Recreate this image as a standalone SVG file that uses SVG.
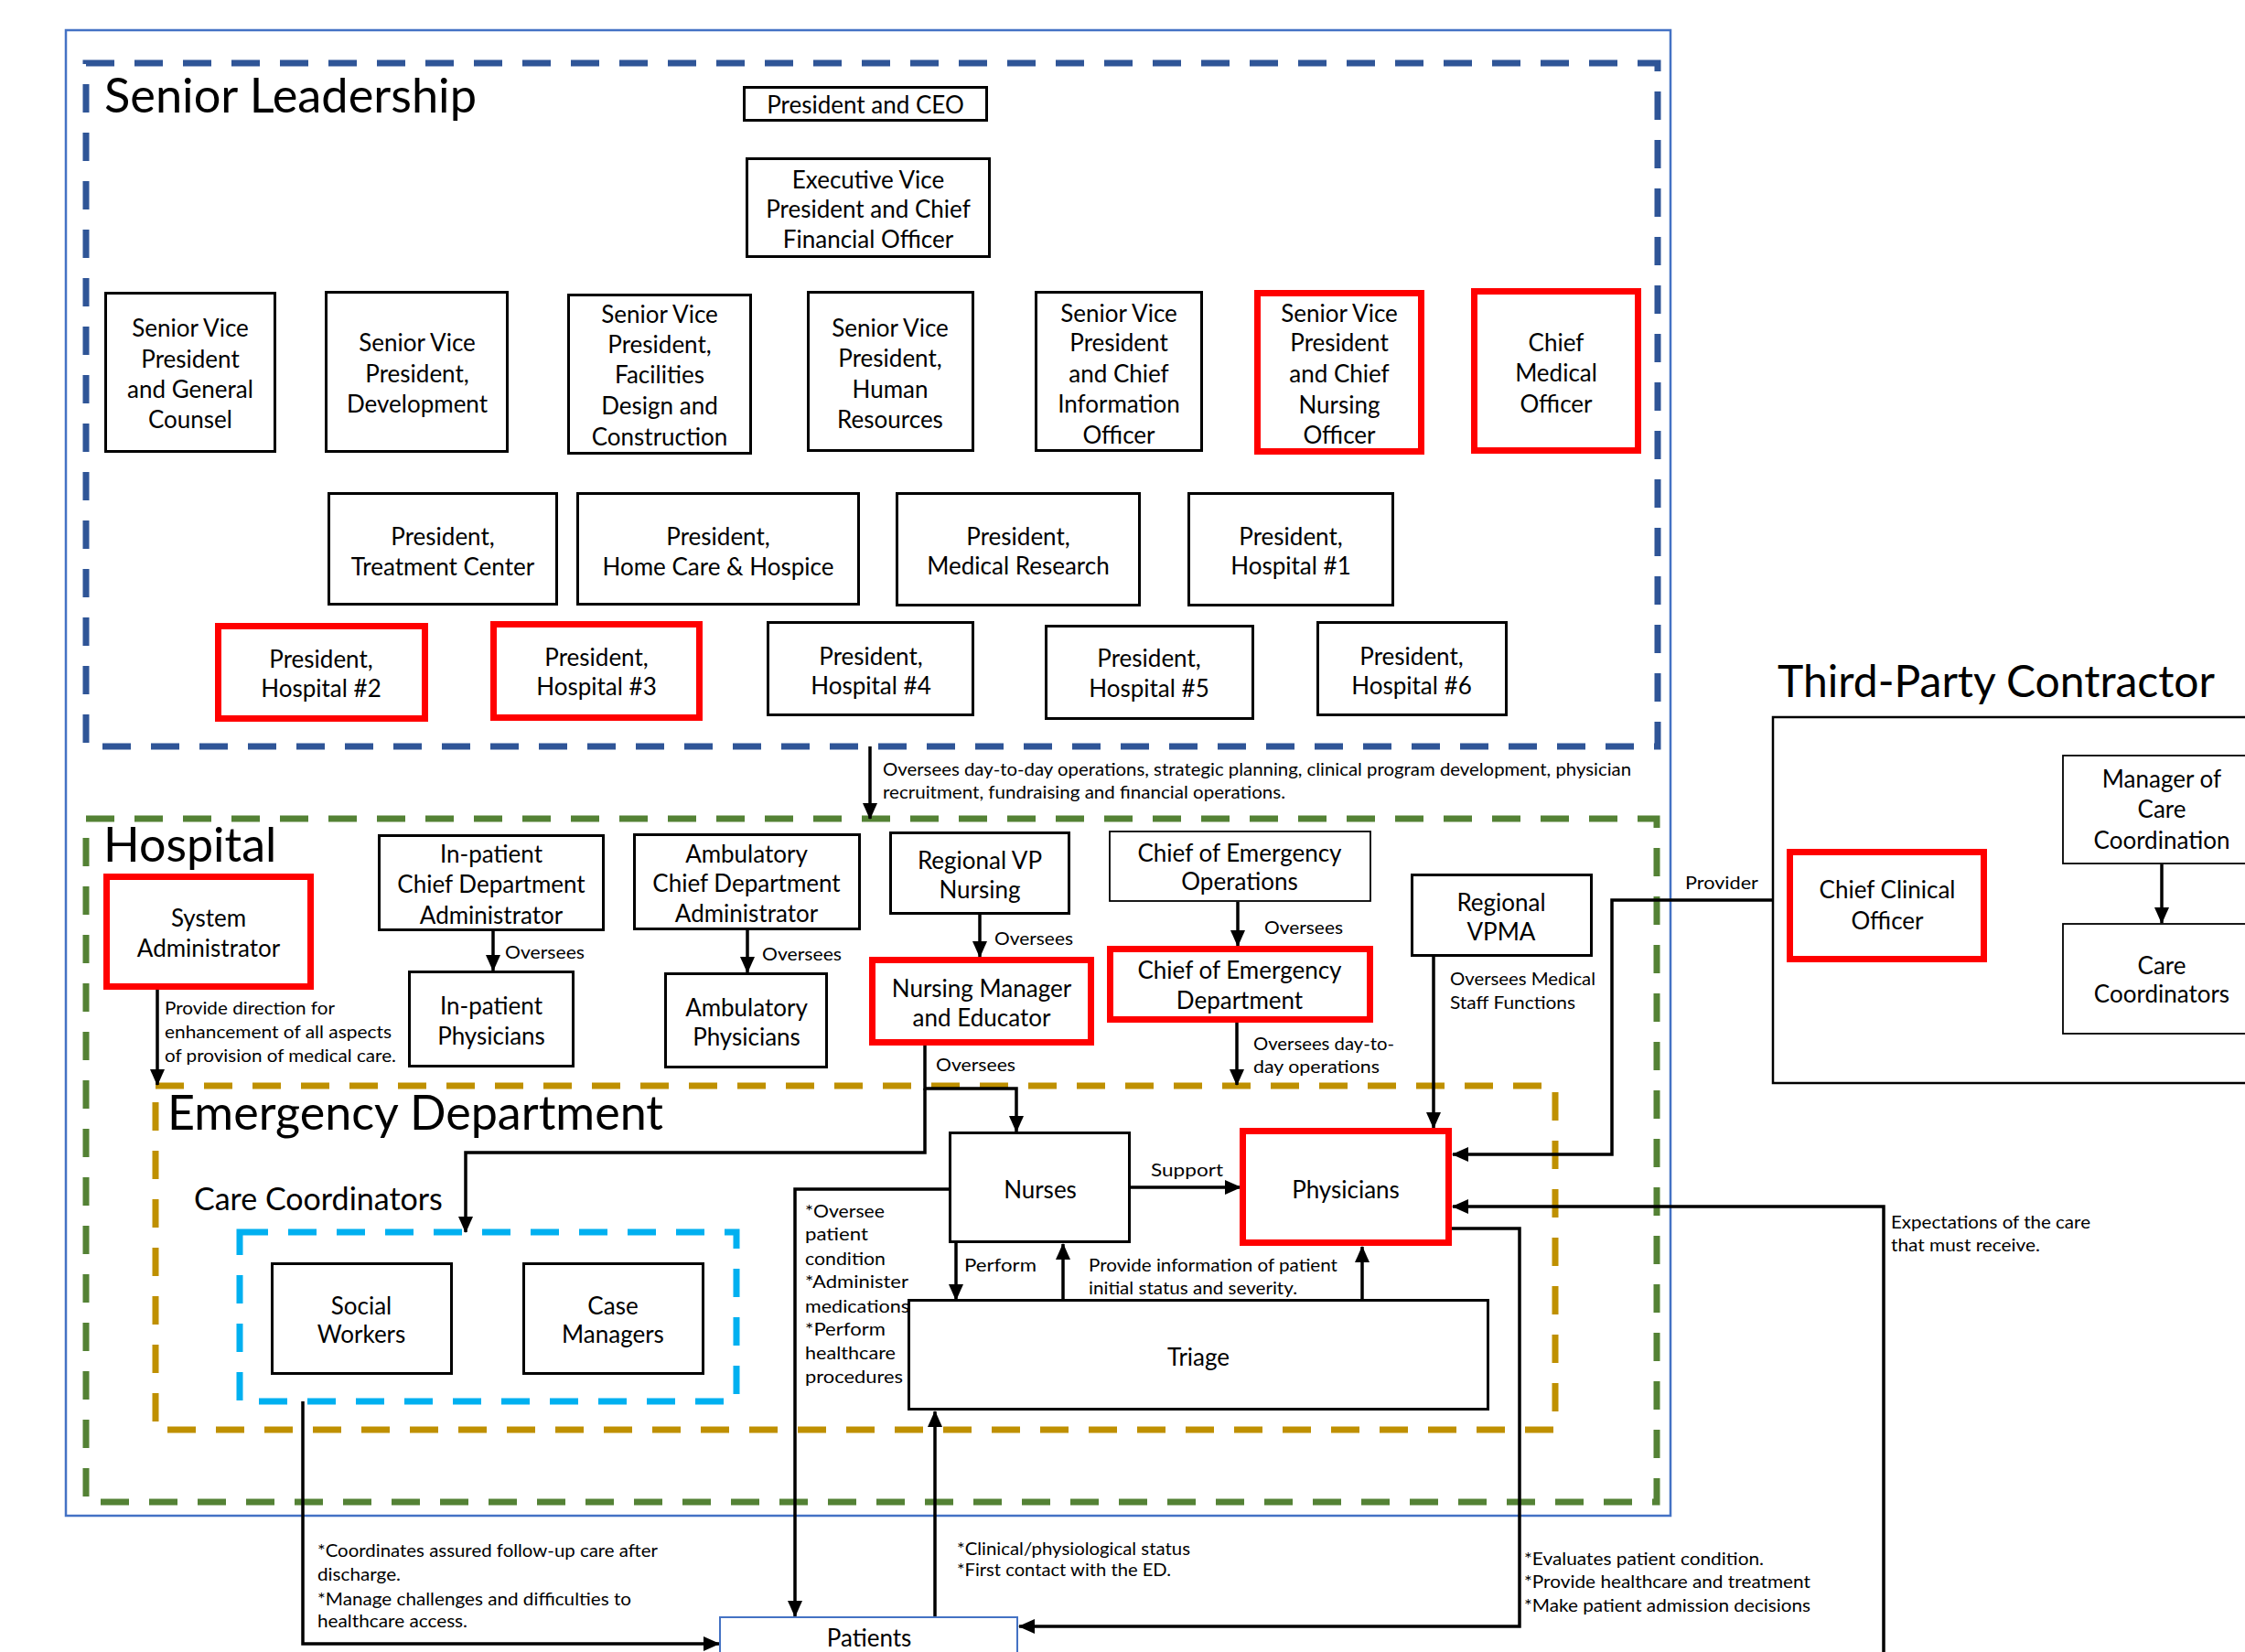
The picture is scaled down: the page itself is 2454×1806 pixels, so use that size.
<svg xmlns="http://www.w3.org/2000/svg" width="2454" height="1806" viewBox="0 0 2454 1806">
<defs>
<style>
.bx{fill:#fff;stroke:#000;stroke-width:3}
.thin{fill:#fff;stroke:#000;stroke-width:1.8}
.red{fill:#fff;stroke:#ff0000;stroke-width:7}
.t{font-family:Lato,"Liberation Sans",sans-serif;font-size:26px;fill:#000;text-anchor:middle;dominant-baseline:central}
.a{font-family:Lato,"Liberation Sans",sans-serif;font-size:20px;fill:#000;dominant-baseline:central}
.h{font-family:Lato,"Liberation Sans",sans-serif;font-size:52px;fill:#000}
.c{fill:none;stroke:#000;stroke-width:3.5}
.dash{fill:none;stroke-width:7;stroke-dasharray:31 22}
</style>
<marker id="ah" markerWidth="18" markerHeight="16" refX="17" refY="8" orient="auto" markerUnits="userSpaceOnUse"><path d="M0,0 L18,8 L0,16 z" fill="#000"/></marker>
</defs>
<rect width="2454" height="1806" fill="#fff"/>

<g id="containers">
<rect x="72" y="33" width="1754" height="1624" fill="none" stroke="#4472C4" stroke-width="2.5"/>
<rect class="dash" x="94" y="69" width="1718" height="747" stroke="#2F5597"/>
<rect class="dash" x="94" y="895" width="1717" height="747" stroke="#548235"/>
<rect class="dash" x="170" y="1187" width="1530" height="376" stroke="#BF9000"/>
<rect class="dash" x="262" y="1347" width="543" height="185" stroke="#00B0F0"/>
<rect x="1938" y="784" width="540" height="400" fill="none" stroke="#000" stroke-width="2.5"/>
<text class="h" x="114" y="123" textLength="407" lengthAdjust="spacingAndGlyphs">Senior Leadership</text>
<text class="h" x="113" y="942">Hospital</text>
<text class="h" x="183" y="1235" textLength="542" lengthAdjust="spacingAndGlyphs">Emergency Department</text>
<text class="h" x="1943" y="762" style="font-size:48px">Third-Party Contractor</text>
<text class="h" x="212" y="1323" style="font-size:34px">Care Coordinators</text>
</g>

<g id="connectors">
<path class="c" d="M951,816 V895" marker-end="url(#ah)"/>
<path class="c" d="M172,1082 V1186" marker-end="url(#ah)"/>
<path class="c" d="M539,1018 V1061" marker-end="url(#ah)"/>
<path class="c" d="M817,1017 V1063" marker-end="url(#ah)"/>
<path class="c" d="M1071,1000 V1046" marker-end="url(#ah)"/>
<path class="c" d="M1353,986 V1034" marker-end="url(#ah)"/>
<path class="c" d="M1352,1118 V1186" marker-end="url(#ah)"/>
<path class="c" d="M1567,1046 V1233" marker-end="url(#ah)"/>
<path class="c" d="M1011,1143 V1190 H1111 V1237" marker-end="url(#ah)"/>
<path class="c" d="M1011,1190 V1260 H509 V1347" marker-end="url(#ah)"/>
<path class="c" d="M1236,1298 H1356" marker-end="url(#ah)"/>
<path class="c" d="M1937,984 H1762 V1262 H1588" marker-end="url(#ah)"/>
<path class="c" d="M2059,1806 V1319 H1588" marker-end="url(#ah)"/>
<path class="c" d="M1587,1343 H1661 V1778 H1114" marker-end="url(#ah)"/>
<path class="c" d="M1037,1300 H869 V1767" marker-end="url(#ah)"/>
<path class="c" d="M1045,1359 V1421" marker-end="url(#ah)"/>
<path class="c" d="M1162,1420 V1360" marker-end="url(#ah)"/>
<path class="c" d="M1489,1420 V1363" marker-end="url(#ah)"/>
<path class="c" d="M1022,1767 V1543" marker-end="url(#ah)"/>
<path class="c" d="M331,1532 V1797 H786" marker-end="url(#ah)"/>
<path class="c" d="M2363,945 V1009" marker-end="url(#ah)"/>

<text class="a" x="965" y="840" textLength="818" lengthAdjust="spacingAndGlyphs">Oversees day-to-day operations, strategic planning, clinical program development, physician</text>
<text class="a" x="965" y="865" textLength="440" lengthAdjust="spacingAndGlyphs">recruitment, fundraising and financial operations.</text>
<text class="a" x="180" y="1101" textLength="186" lengthAdjust="spacingAndGlyphs">Provide direction for</text>
<text class="a" x="180" y="1127" textLength="248" lengthAdjust="spacingAndGlyphs">enhancement of all aspects</text>
<text class="a" x="180" y="1153" textLength="253" lengthAdjust="spacingAndGlyphs">of provision of medical care.</text>
<text class="a" x="552" y="1040" textLength="87" lengthAdjust="spacingAndGlyphs">Oversees</text>
<text class="a" x="833" y="1042" textLength="87" lengthAdjust="spacingAndGlyphs">Oversees</text>
<text class="a" x="1087" y="1025" textLength="86" lengthAdjust="spacingAndGlyphs">Oversees</text>
<text class="a" x="1382" y="1013" textLength="86" lengthAdjust="spacingAndGlyphs">Oversees</text>
<text class="a" x="1585" y="1069" textLength="159" lengthAdjust="spacingAndGlyphs">Oversees Medical</text>
<text class="a" x="1585" y="1095" textLength="137" lengthAdjust="spacingAndGlyphs">Staff Functions</text>
<text class="a" x="1370" y="1140" textLength="154" lengthAdjust="spacingAndGlyphs">Oversees day-to-</text>
<text class="a" x="1370" y="1165" textLength="138" lengthAdjust="spacingAndGlyphs">day operations</text>
<text class="a" x="1023" y="1163" textLength="87" lengthAdjust="spacingAndGlyphs">Oversees</text>
<text class="a" x="1258" y="1278" textLength="79" lengthAdjust="spacingAndGlyphs">Support</text>
<text class="a" x="1054" y="1382" textLength="79" lengthAdjust="spacingAndGlyphs">Perform</text>
<text class="a" x="1190" y="1382" textLength="272" lengthAdjust="spacingAndGlyphs">Provide information of patient</text>
<text class="a" x="1190" y="1407" textLength="228" lengthAdjust="spacingAndGlyphs">initial status and severity.</text>
<text class="a" x="880" y="1323" textLength="87" lengthAdjust="spacingAndGlyphs">*Oversee</text>
<text class="a" x="880" y="1348" textLength="69" lengthAdjust="spacingAndGlyphs">patient</text>
<text class="a" x="880" y="1375" textLength="88" lengthAdjust="spacingAndGlyphs">condition</text>
<text class="a" x="880" y="1400" textLength="113" lengthAdjust="spacingAndGlyphs">*Administer</text>
<text class="a" x="880" y="1427" textLength="114" lengthAdjust="spacingAndGlyphs">medications</text>
<text class="a" x="880" y="1452" textLength="88" lengthAdjust="spacingAndGlyphs">*Perform</text>
<text class="a" x="880" y="1478" textLength="99" lengthAdjust="spacingAndGlyphs">healthcare</text>
<text class="a" x="880" y="1504" textLength="107" lengthAdjust="spacingAndGlyphs">procedures</text>
<text class="a" x="347" y="1694" textLength="372" lengthAdjust="spacingAndGlyphs">*Coordinates assured follow-up care after</text>
<text class="a" x="347" y="1720" textLength="91" lengthAdjust="spacingAndGlyphs">discharge.</text>
<text class="a" x="347" y="1747" textLength="343" lengthAdjust="spacingAndGlyphs">*Manage challenges and difficulties to</text>
<text class="a" x="347" y="1771" textLength="164" lengthAdjust="spacingAndGlyphs">healthcare access.</text>
<text class="a" x="1046" y="1692" textLength="255" lengthAdjust="spacingAndGlyphs">*Clinical/physiological status</text>
<text class="a" x="1046" y="1715" textLength="234" lengthAdjust="spacingAndGlyphs">*First contact with the ED.</text>
<text class="a" x="1666" y="1703" textLength="262" lengthAdjust="spacingAndGlyphs">*Evaluates patient condition.</text>
<text class="a" x="1666" y="1728" textLength="313" lengthAdjust="spacingAndGlyphs">*Provide healthcare and treatment</text>
<text class="a" x="1666" y="1754" textLength="313" lengthAdjust="spacingAndGlyphs">*Make patient admission decisions</text>
<text class="a" x="2067" y="1335" textLength="218" lengthAdjust="spacingAndGlyphs">Expectations of the care</text>
<text class="a" x="2067" y="1360" textLength="163" lengthAdjust="spacingAndGlyphs">that must receive.</text>
<text class="a" x="1842" y="964" textLength="80" lengthAdjust="spacingAndGlyphs">Provider</text>
</g>

<g id="n-ceo"><rect class="bx" x="813.5" y="95.5" width="265" height="36"/><text class="t" x="946" y="114">President and CEO</text></g>
<g id="n-evp"><rect class="bx" x="816.5" y="173.5" width="265" height="107"/><text class="t"><tspan x="949" y="196">Executive Vice</tspan><tspan x="949" y="228">President and Chief</tspan><tspan x="949" y="261">Financial Officer</tspan></text></g>
<g id="n-svp-gc"><rect class="bx" x="115.5" y="320.5" width="185" height="173"/><text class="t"><tspan x="208" y="358">Senior Vice</tspan><tspan x="208" y="392">President</tspan><tspan x="208" y="425">and General</tspan><tspan x="208" y="458">Counsel</tspan></text></g>
<g id="n-svp-dev"><rect class="bx" x="356.5" y="319.5" width="198" height="174"/><text class="t"><tspan x="456" y="374">Senior Vice</tspan><tspan x="456" y="408">President,</tspan><tspan x="456" y="441">Development</tspan></text></g>
<g id="n-svp-fac"><rect class="bx" x="621.5" y="322.5" width="199" height="173"/><text class="t"><tspan x="721" y="343">Senior Vice</tspan><tspan x="721" y="376">President,</tspan><tspan x="721" y="409">Facilities</tspan><tspan x="721" y="443">Design and</tspan><tspan x="721" y="477">Construction</tspan></text></g>
<g id="n-svp-hr"><rect class="bx" x="883.5" y="319.5" width="180" height="173"/><text class="t"><tspan x="973" y="358">Senior Vice</tspan><tspan x="973" y="391">President,</tspan><tspan x="973" y="425">Human</tspan><tspan x="973" y="458">Resources</tspan></text></g>
<g id="n-svp-cio"><rect class="bx" x="1132.5" y="319.5" width="181" height="173"/><text class="t"><tspan x="1223" y="342">Senior Vice</tspan><tspan x="1223" y="374">President</tspan><tspan x="1223" y="408">and Chief</tspan><tspan x="1223" y="441">Information</tspan><tspan x="1223" y="475">Officer</tspan></text></g>
<g id="n-svp-cno"><rect class="red" x="1374.5" y="320.5" width="179" height="173"/><text class="t"><tspan x="1464" y="342">Senior Vice</tspan><tspan x="1464" y="374">President</tspan><tspan x="1464" y="408">and Chief</tspan><tspan x="1464" y="442">Nursing</tspan><tspan x="1464" y="475">Officer</tspan></text></g>
<g id="n-cmo"><rect class="red" x="1611.5" y="318.5" width="179" height="174"/><text class="t"><tspan x="1701" y="374">Chief</tspan><tspan x="1701" y="407">Medical</tspan><tspan x="1701" y="441">Officer</tspan></text></g>

<g id="n-tc"><rect class="bx" x="359.5" y="539.5" width="249" height="121"/><text class="t"><tspan x="484" y="586">President,</tspan><tspan x="484" y="619">Treatment Center</tspan></text></g>
<g id="n-hch"><rect class="bx" x="631.5" y="539.5" width="307" height="121"/><text class="t"><tspan x="785" y="586">President,</tspan><tspan x="785" y="619">Home Care &amp; Hospice</tspan></text></g>
<g id="n-mr"><rect class="bx" x="980.5" y="539.5" width="265" height="122"/><text class="t"><tspan x="1113" y="586">President,</tspan><tspan x="1113" y="618">Medical Research</tspan></text></g>
<g id="n-h1"><rect class="bx" x="1299.5" y="539.5" width="223" height="122"/><text class="t"><tspan x="1411" y="586">President,</tspan><tspan x="1411" y="618">Hospital #1</tspan></text></g>
<g id="n-h2"><rect class="red" x="238.5" y="684.5" width="226" height="101"/><text class="t"><tspan x="351" y="720">President,</tspan><tspan x="351" y="752">Hospital #2</tspan></text></g>
<g id="n-h3"><rect class="red" x="539.5" y="682.5" width="225" height="102"/><text class="t"><tspan x="652" y="718">President,</tspan><tspan x="652" y="750">Hospital #3</tspan></text></g>
<g id="n-h4"><rect class="bx" x="839.5" y="680.5" width="224" height="101"/><text class="t"><tspan x="952" y="717">President,</tspan><tspan x="952" y="749">Hospital #4</tspan></text></g>
<g id="n-h5"><rect class="bx" x="1143.5" y="684.5" width="226" height="101"/><text class="t"><tspan x="1256" y="719">President,</tspan><tspan x="1256" y="752">Hospital #5</tspan></text></g>
<g id="n-h6"><rect class="bx" x="1440.5" y="680.5" width="206" height="101"/><text class="t"><tspan x="1543" y="717">President,</tspan><tspan x="1543" y="749">Hospital #6</tspan></text></g>

<g id="n-sysadmin"><rect class="red" x="116.5" y="958.5" width="223" height="120"/><text class="t"><tspan x="228" y="1003">System</tspan><tspan x="228" y="1036">Administrator</tspan></text></g>
<g id="n-ipcda"><rect class="bx" x="414.5" y="913.5" width="245" height="103"/><text class="t"><tspan x="537" y="933">In-patient</tspan><tspan x="537" y="966">Chief Department</tspan><tspan x="537" y="1000">Administrator</tspan></text></g>
<g id="n-ipp"><rect class="bx" x="447.5" y="1062.5" width="179" height="103"/><text class="t"><tspan x="537" y="1099">In-patient</tspan><tspan x="537" y="1132">Physicians</tspan></text></g>
<g id="n-acda"><rect class="bx" x="693.5" y="912.5" width="246" height="103"/><text class="t"><tspan x="816" y="933">Ambulatory</tspan><tspan x="816" y="965">Chief Department</tspan><tspan x="816" y="998">Administrator</tspan></text></g>
<g id="n-ap"><rect class="bx" x="727.5" y="1064.5" width="176" height="102"/><text class="t"><tspan x="816" y="1101">Ambulatory</tspan><tspan x="816" y="1133">Physicians</tspan></text></g>
<g id="n-rvpn"><rect class="bx" x="973.5" y="910.5" width="195" height="88"/><text class="t"><tspan x="1071" y="940">Regional VP</tspan><tspan x="1071" y="972">Nursing</tspan></text></g>
<g id="n-nme"><rect class="red" x="953.5" y="1049.5" width="239" height="90"/><text class="t"><tspan x="1073" y="1080">Nursing Manager</tspan><tspan x="1073" y="1112">and Educator</tspan></text></g>
<g id="n-coeo"><rect class="thin" x="1213" y="909" width="285" height="76"/><text class="t"><tspan x="1355" y="932">Chief of Emergency</tspan><tspan x="1355" y="963">Operations</tspan></text></g>
<g id="n-coed"><rect class="red" x="1213.5" y="1037.5" width="284" height="77"/><text class="t"><tspan x="1355" y="1060">Chief of Emergency</tspan><tspan x="1355" y="1093">Department</tspan></text></g>
<g id="n-rvpma"><rect class="bx" x="1543.5" y="956.5" width="196" height="88"/><text class="t"><tspan x="1641" y="986">Regional</tspan><tspan x="1641" y="1018">VPMA</tspan></text></g>

<g id="n-nurses"><rect class="bx" x="1038.5" y="1238.5" width="196" height="119"/><text class="t" x="1137" y="1300">Nurses</text></g>
<g id="n-physicians"><rect class="red" x="1358.5" y="1236.5" width="225" height="122"/><text class="t" x="1471" y="1300">Physicians</text></g>
<g id="n-triage"><rect class="bx" x="993.5" y="1421.5" width="633" height="119"/><text class="t" x="1310" y="1483">Triage</text></g>
<g id="n-sw"><rect class="bx" x="297.5" y="1381.5" width="196" height="120"/><text class="t"><tspan x="395" y="1427">Social</tspan><tspan x="395" y="1458">Workers</tspan></text></g>
<g id="n-cm"><rect class="bx" x="572.5" y="1381.5" width="196" height="120"/><text class="t"><tspan x="670" y="1427">Case</tspan><tspan x="670" y="1458">Managers</tspan></text></g>
<g id="n-patients"><rect x="787" y="1768" width="325" height="80" fill="#fff" stroke="#4472C4" stroke-width="2"/><text class="t" x="950" y="1790">Patients</text></g>

<g id="n-cco"><rect class="red" x="1956.5" y="931.5" width="212" height="117"/><text class="t"><tspan x="2063" y="972">Chief Clinical</tspan><tspan x="2063" y="1006">Officer</tspan></text></g>
<g id="n-mocc"><rect class="thin" x="2255" y="826" width="220" height="118"/><text class="t"><tspan x="2363" y="851">Manager of</tspan><tspan x="2363" y="884">Care</tspan><tspan x="2363" y="918">Coordination</tspan></text></g>
<g id="n-cc3"><rect class="thin" x="2255" y="1010" width="220" height="120"/><text class="t"><tspan x="2363" y="1055">Care</tspan><tspan x="2363" y="1086">Coordinators</tspan></text></g>
</svg>
